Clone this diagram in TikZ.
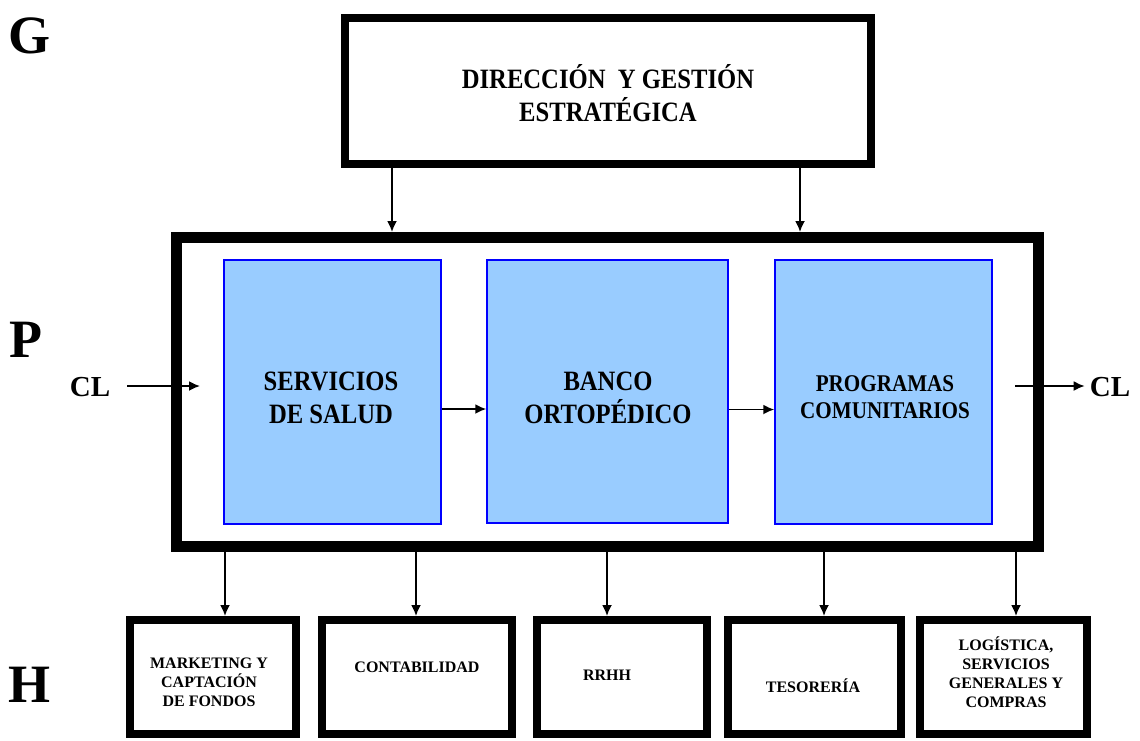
\documentclass[tikz,border=0pt]{standalone}
\usepackage{fontspec}
\setmainfont{Liberation Serif}[FakeStretch=0.88]
\newfontfamily\plainserif{Liberation Serif}
\usetikzlibrary{arrows.meta,calc}
\definecolor{procfill}{HTML}{99CCFF}
\definecolor{procline}{HTML}{0000FF}
\tikzset{
  frame/.style={draw=black, line width=8pt, minimum width=#1, inner sep=0pt},
  bigframe/.style={draw=black, line width=11pt, inner sep=0pt},
  procbox/.style={draw=procline, fill=procfill, line width=1.5pt, inner sep=0pt},
  arr/.style={draw=black, line width=1.8pt, -{Latex[length=11pt,width=10pt]}},
  letter/.style={font=\plainserif\bfseries\fontsize{54}{60}\selectfont, inner sep=0pt},
  cl/.style={font=\plainserif\bfseries\fontsize{29}{34}\selectfont, inner ysep=0pt},
  bigtxt/.style={font=\bfseries\fontsize{28}{33}\selectfont, align=center, inner sep=0pt},
  midtxt/.style={font=\bfseries\fontsize{24}{27}\selectfont, align=center, inner sep=0pt},
  smalltxt/.style={font=\plainserif\bfseries\fontsize{16}{19}\selectfont, align=center, inner sep=0pt},
}
\begin{document}
\begin{tikzpicture}[x=1pt,y=-1pt]
  \useasboundingbox (0,0) rectangle (1140,740);

  % level letters
  \node[letter] (G) at (30,36) {G};
  \node[letter] (P) at (26,340) {P};
  \node[letter] (H) at (30,685) {H};

  % strategic management
  \node[frame=526pt, minimum height=146pt] (top) at (608,91) {};
  \node[bigtxt] (toptxt) at (608,93) {DIRECCIÓN\ \ Y GESTIÓN\\ESTRATÉGICA};

  % core process frame
  \node[bigframe, minimum width=862pt, minimum height=309pt] (big) at (607.5,392) {};

  % process blocks
  \node[procbox, minimum width=217pt, minimum height=264pt] (b1) at (332.5,392) {};
  \node[procbox, minimum width=241pt, minimum height=263pt] (b2) at (607.5,391.5) {};
  \node[procbox, minimum width=217pt, minimum height=264pt] (b3) at (883.5,392) {};
  \node[bigtxt] (t1) at (331,398) {SERVICIOS\\DE SALUD};
  \node[bigtxt] (t2) at (608,398) {BANCO\\ORTOPÉDICO};
  \node[midtxt] (t3) at (885,397) {PROGRAMAS\\COMUNITARIOS};

  % support units
  \node[frame=166pt, minimum height=114pt] (h1) at (213,677) {};
  \node[frame=190pt, minimum height=114pt] (h2) at (417,677) {};
  \node[frame=170pt, minimum height=114pt] (h3) at (622,677) {};
  \node[frame=173pt, minimum height=114pt] (h4) at (814.5,677) {};
  \node[frame=167pt, minimum height=114pt] (h5) at (1003.5,677) {};
  \node[smalltxt] (s1) at (209,682) {MARKETING Y\\CAPTACIÓN\\DE FONDOS};
  \node[smalltxt] (s2) at (417,667) {CONTABILIDAD};
  \node[smalltxt] (s3) at (607,675) {RRHH};
  \node[smalltxt] (s4) at (813,686) {TESORERÍA};
  \node[smalltxt] (s5) at (1006,672) {LOGÍSTICA,\\SERVICIOS\\GENERALES Y\\COMPRAS};

  % client in / out
  \node[cl, inner xsep=17pt] (clin) at (90,387) {CL};
  \node[cl, inner xsep=5pt] (clout) at (1110,387) {CL};
  \coordinate (inend) at (200,386);
  \coordinate (outstart) at (1015,386);
  \draw[arr] (clin.east |- inend) -- (inend);
  \draw[arr] (outstart) -- (clout.west |- outstart);

  % flow between process blocks
  \draw[arr] ($(b1.east)+(0,17)$) -- ($(b1.east -| b2.west)+(0,17)$);
  \draw[arr] ($(b2.east)+(0,18)$) -- ($(b2.east -| b3.west)+(0,18)$);

  % direction feeds the process
  \coordinate (d1) at (392,0);
  \coordinate (d2) at (800,0);
  \draw[arr] (top.south -| d1) -- (big.north -| d1);
  \draw[arr] (top.south -| d2) -- (big.north -| d2);

  % process relies on support units
  \foreach \i/\x in {1/225,2/416,3/607,4/824,5/1016} {
    \coordinate (u\i) at (\x,0);
    \draw[arr] (big.south -| u\i) -- (h\i.north -| u\i);
  }
\end{tikzpicture}
\end{document}
